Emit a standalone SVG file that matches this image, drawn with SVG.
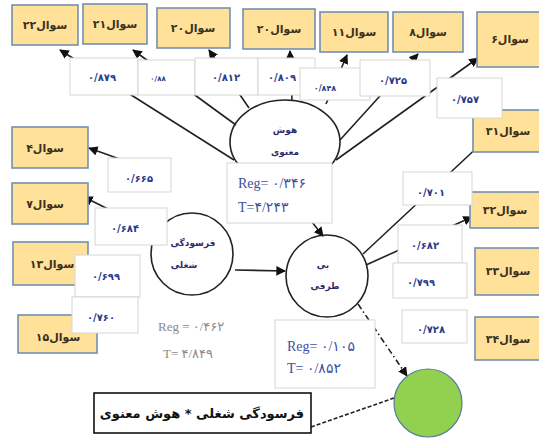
<svg xmlns="http://www.w3.org/2000/svg" width="539" height="439" viewBox="0 0 539 439">
<style>
.q rect{fill:#FFE199;stroke:#7390B0;stroke-width:1.6}
.q text{font-family:"DejaVu Sans",sans-serif;font-size:11px;font-weight:bold;fill:#3a3020;text-anchor:middle}
.c rect{fill:#fff;stroke:#d6d6d6;stroke-width:1}
.c text{font-family:"DejaVu Sans",sans-serif;font-size:10px;font-weight:bold;fill:#2b3a8a;text-anchor:middle}
.ln{stroke:#222;stroke-width:1.6;fill:none}
.lv{fill:none;stroke:#222;stroke-width:1.6}
.nt{font-family:"DejaVu Sans",sans-serif;font-size:9px;font-weight:bold;fill:#2c2c6c;text-anchor:middle}
.rg{font-family:"Liberation Serif","DejaVu Sans",serif;font-size:14px;fill:#3d4f9f}
.rg2{font-family:"Liberation Serif","DejaVu Sans",serif;font-size:13px;fill:#8a8a8a}
</style>
<defs>
<marker id="ar" viewBox="0 0 10 10" refX="9" refY="5" markerWidth="6" markerHeight="6" orient="auto" markerUnits="strokeWidth">
<path d="M0,0 L10,5 L0,10 z" fill="#111"/>
</marker>
</defs>
<rect width="539" height="439" fill="#fff"/>
<g id="connectors">
<line class="ln" x1="234" y1="160" x2="60" y2="50" marker-end="url(#ar)"/>
<line class="ln" x1="236" y1="125" x2="133" y2="50" marker-end="url(#ar)"/>
<line class="ln" x1="249" y1="108" x2="209" y2="50" marker-end="url(#ar)"/>
<line class="ln" x1="292" y1="100" x2="290" y2="51" marker-end="url(#ar)"/>
<line class="ln" x1="326" y1="104" x2="347" y2="55" marker-end="url(#ar)"/>
<line class="ln" x1="340" y1="140" x2="418" y2="54" marker-end="url(#ar)"/>
<line class="ln" x1="336" y1="160" x2="478" y2="58" marker-end="url(#ar)"/>
<line class="ln" x1="150" y1="170" x2="89" y2="148" marker-end="url(#ar)"/>
<line class="ln" x1="120" y1="215" x2="84" y2="197" marker-end="url(#ar)"/>
<line class="ln" x1="363" y1="254" x2="482" y2="143" marker-end="url(#ar)"/>
<line class="ln" x1="366" y1="265" x2="472" y2="217" marker-end="url(#ar)"/>
<line class="ln" x1="312" y1="222" x2="323" y2="236" marker-end="url(#ar)"/>
<line class="ln" x1="235" y1="270" x2="285" y2="271" marker-end="url(#ar)"/>
<line class="ln" x1="358" y1="304" x2="407" y2="376" stroke-dasharray="6,3,1.5,3" marker-end="url(#ar)"/>
<line class="ln" x1="311" y1="427" x2="394" y2="398" stroke-dasharray="4,2"/>
</g>
<g id="hub">
<ellipse class="lv" cx="285" cy="142" rx="55" ry="42"/>
<text class="nt" x="285" y="133">هوش</text>
<text class="nt" x="285" y="155">معنوی</text>
</g>
<g id="fersoodegi">
<circle class="lv" cx="192" cy="254" r="41"/>
<text class="nt" x="193" y="246">فرسودگی</text>
<text class="nt" x="184" y="268">شغلی</text>
<text class="rg2" x="158" y="331">Reg =  ۰/۴۶۲</text>
<text class="rg2" x="163" y="358">T=  ۴/۸۴۹</text>
</g>
<g id="bitarafi">
<circle class="lv" cx="327" cy="276" r="41"/>
<text class="nt" x="323" y="268">بی</text>
<text class="nt" x="325" y="289">طرفی</text>
</g>
<g id="green">
<circle cx="428" cy="403" r="34" fill="#92D050" stroke="#5a7a9a" stroke-width="1.2"/>
</g>
<g id="interaction">
<rect x="94" y="393" width="217" height="40" fill="#fff" stroke="#111" stroke-width="1.6"/>
<text x="202" y="418" font-family="DejaVu Sans, sans-serif" font-size="13" font-weight="bold" fill="#111" text-anchor="middle">فرسودگی شغلی * هوش معنوی</text>
</g>
<g id="q22" class="q"><rect x="12" y="5" width="66" height="40"/><text x="45" y="29">سوال۲۲</text></g>
<g id="q21" class="q"><rect x="83" y="4" width="64" height="40"/><text x="115" y="28">سوال۲۱</text></g>
<g id="q20" class="q"><rect x="157" y="8" width="73" height="40"/><text x="193" y="32">سوال۲۰</text></g>
<g id="q20b" class="q"><rect x="243" y="9" width="72" height="40"/><text x="279" y="33">سوال۲۰</text></g>
<g id="q11" class="q"><rect x="320" y="12" width="68" height="40"/><text x="354" y="36">سوال۱۱</text></g>
<g id="q8" class="q"><rect x="393" y="12" width="70" height="40"/><text x="428" y="36">سوال۸</text></g>
<g id="q6" class="q"><rect x="477" y="12" width="70" height="55"/><text x="510" y="43">سوال۶</text></g>
<g id="q31" class="q"><rect x="473" y="110" width="70" height="42"/><text x="508" y="135">سوال۳۱</text></g>
<g id="q32" class="q"><rect x="470" y="192" width="70" height="36"/><text x="505" y="214">سوال۳۲</text></g>
<g id="q33" class="q"><rect x="475" y="248" width="70" height="47"/><text x="508" y="275">سوال۳۳</text></g>
<g id="q34" class="q"><rect x="475" y="317" width="70" height="43"/><text x="508" y="343">سوال۳۴</text></g>
<g id="q4" class="q"><rect x="12" y="127" width="76" height="41"/><text x="45" y="152">سوال۴</text></g>
<g id="q7" class="q"><rect x="12" y="183" width="76" height="41"/><text x="45" y="208">سوال۷</text></g>
<g id="q13" class="q"><rect x="13" y="242" width="75" height="43"/><text x="52" y="268">سوال۱۳</text></g>
<g id="q15" class="q"><rect x="18" y="315" width="79" height="38"/><text x="58" y="341">سوال۱۵</text></g>
<g id="coefficients" class="c">
<rect x="70" y="58" width="68" height="37"/><text x="102" y="81">۰/۸۷۹</text>
<rect x="138" y="60" width="57" height="35"/><text x="158" y="81" style="font-size:7px">۰/۸۸</text>
<rect x="195" y="58" width="63" height="37"/><text x="226" y="81">۰/۸۱۲</text>
<rect x="258" y="58" width="57" height="37"/><text x="282" y="81">۰/۸۰۹</text>
<rect x="300" y="68" width="70" height="32"/><text x="325" y="91" style="font-size:8px">۰/۸۴۸</text>
<rect x="360" y="60" width="70" height="36"/><text x="393" y="84">۰/۷۲۵</text>
<rect x="437" y="78" width="65" height="40"/><text x="465" y="103">۰/۷۵۷</text>
<rect x="108" y="158" width="63" height="34"/><text x="139" y="182">۰/۶۶۵</text>
<rect x="95" y="208" width="72" height="37"/><text x="125" y="232">۰/۶۸۴</text>
<rect x="75" y="255" width="65" height="42"/><text x="106" y="280">۰/۶۹۹</text>
<rect x="72" y="297" width="66" height="36"/><text x="101" y="321">۰/۷۶۰</text>
<rect x="403" y="172" width="69" height="33"/><text x="431" y="196">۰/۷۰۱</text>
<rect x="398" y="225" width="64" height="38"/><text x="425" y="249">۰/۶۸۲</text>
<rect x="393" y="263" width="74" height="35"/><text x="421" y="286">۰/۷۹۹</text>
<rect x="402" y="310" width="65" height="33"/><text x="431" y="333">۰/۷۲۸</text>
</g>
<g id="hub-stats">
<rect x="227" y="163" width="105" height="60" fill="#fff" stroke="#d6d6d6"/>
<text class="rg" x="238" y="188">Reg= ۰/۳۴۶</text>
<text class="rg" x="238" y="212">T=۴/۲۴۳</text>
</g>
<g id="bitarafi-stats">
<rect x="275" y="320" width="100" height="68" fill="#fff" stroke="#d6d6d6"/>
<text class="rg" x="287" y="351">Reg= ۰/۱۰۵</text>
<text class="rg" x="287" y="373">T= ۰/۸۵۲</text>
</g>
</svg>
